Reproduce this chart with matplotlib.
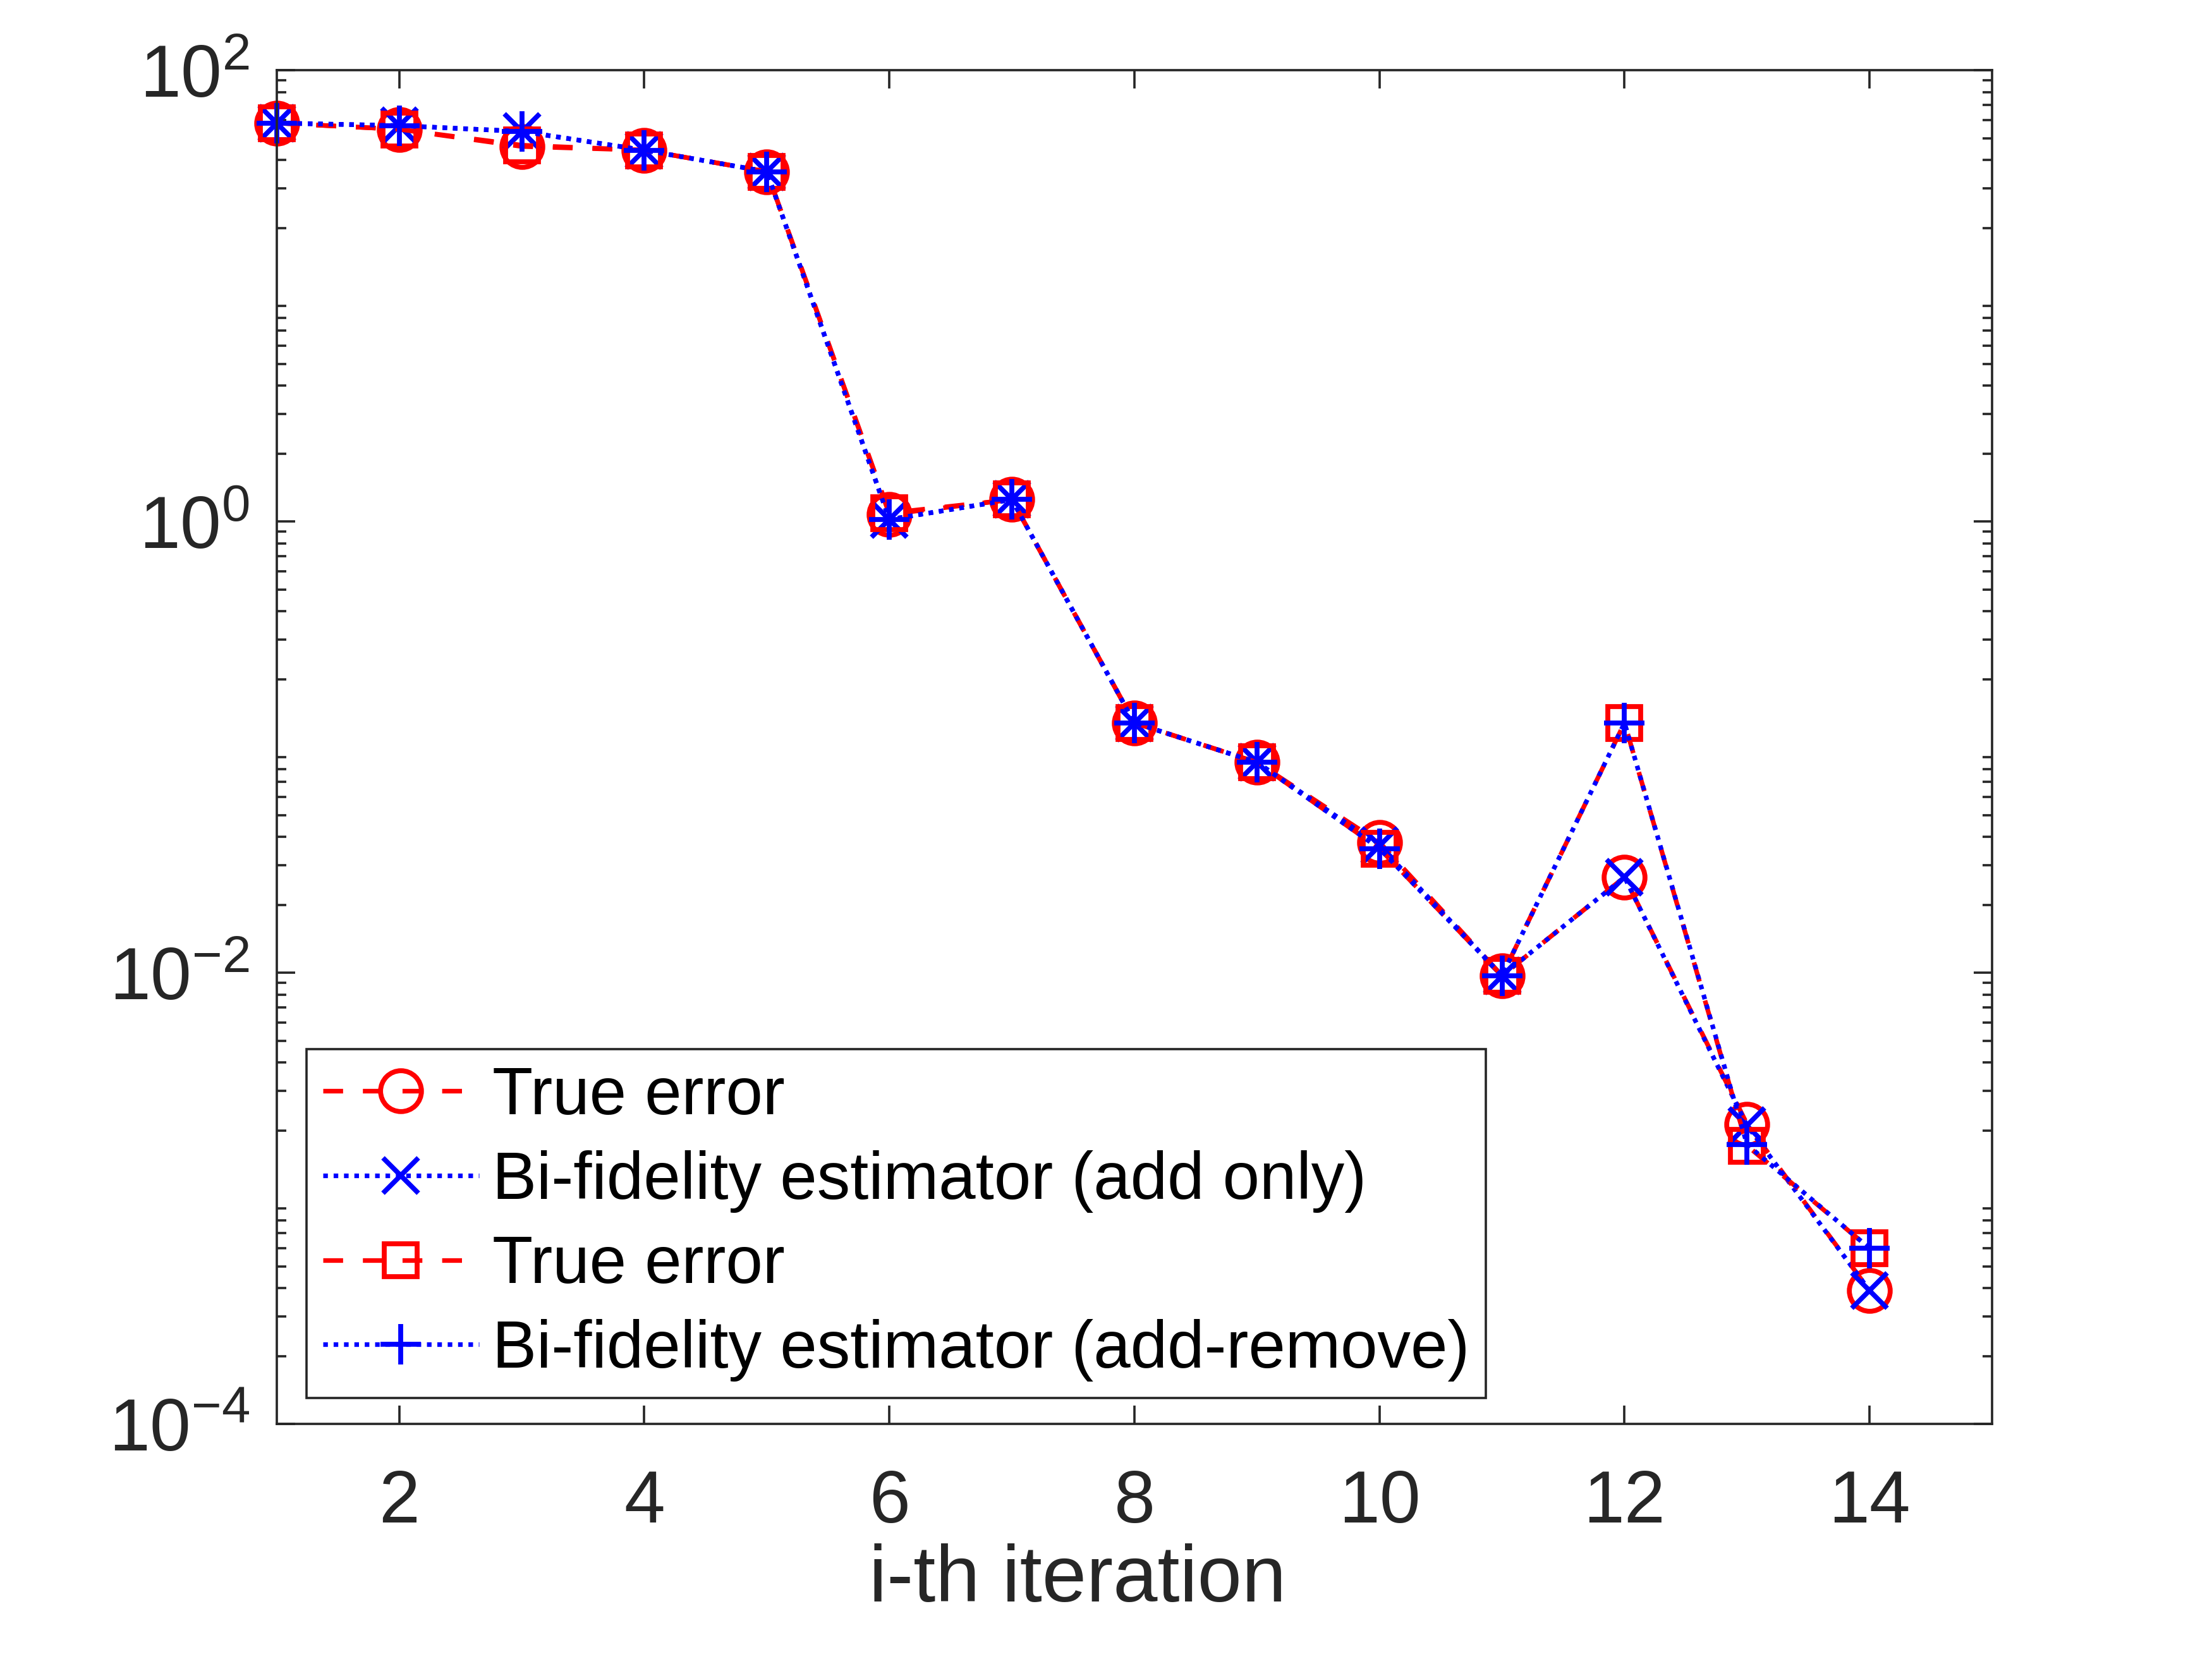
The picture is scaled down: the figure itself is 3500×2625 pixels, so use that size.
import matplotlib
matplotlib.use("Agg")
import matplotlib.pyplot as plt
from matplotlib.ticker import LogLocator, FixedLocator, NullLocator

plt.rcParams['font.family'] = ['Liberation Sans', 'DejaVu Sans']
plt.rcParams['mathtext.fontset'] = 'custom'
plt.rcParams['mathtext.rm'] = 'Liberation Sans'
plt.rcParams['axes.unicode_minus'] = False

# ---- data ----
iterations = [1, 2, 3, 4, 5, 6, 7, 8, 9, 10, 11, 12, 13, 14]
true_err_add = [58.3, 54.7, 45.9, 44.2, 35.5, 1.076, 1.25, 0.128, 0.0855, 0.0378,
                0.0097, 0.0265, 0.00213, 0.00039]
est_add = [58.3, 56.8, 53.5, 44.2, 35.5, 1.02, 1.25, 0.128, 0.0855, 0.0366,
           0.0097, 0.0265, 0.0021, 0.00039]
true_err_ar = [58.3, 54.7, 46.5, 44.2, 35.5, 1.09, 1.25, 0.128, 0.0855, 0.0355,
               0.0097, 0.128, 0.00171, 0.0006]
est_ar = [58.3, 56.8, 53.5, 44.2, 35.5, 1.02, 1.25, 0.128, 0.0855, 0.0355,
          0.0097, 0.128, 0.00173, 0.0006]
labels = ['True error', 'Bi-fidelity estimator (add only)',
          'True error', 'Bi-fidelity estimator (add-remove)']
xticks = [2, 4, 6, 8, 10, 12, 14]

fig = plt.figure(figsize=(10, 7.5), dpi=350)
ax = fig.add_axes([0.1251, 0.1417, 0.7755, 0.8160])

lw = 1.5
mew = 1.6
dash = (0, (4.3, 4.3))
dot = (0, (1.0, 1.25))

ax.plot(iterations, true_err_add, color='red', linestyle=dash, linewidth=lw,
        marker='o', markersize=13.3, markerfacecolor='none', markeredgewidth=mew,
        label=labels[0], clip_on=False)
ax.plot(iterations, est_add, color='blue', linestyle=dot, linewidth=lw,
        marker='x', markersize=11.5, markeredgewidth=mew, label=labels[1],
        clip_on=False)
ax.plot(iterations, true_err_ar, color='red', linestyle=dash, linewidth=lw,
        marker='s', markersize=10.5, markerfacecolor='none', markeredgewidth=mew,
        label=labels[2], clip_on=False)
ax.plot(iterations, est_ar, color='blue', linestyle=dot, linewidth=lw,
        marker='+', markersize=13, markeredgewidth=mew, label=labels[3],
        clip_on=False)

ax.set_yscale('log')
ax.set_xlim(1, 15)
ax.set_ylim(1e-4, 1e2)
ax.xaxis.set_major_locator(FixedLocator(xticks))
ax.xaxis.set_minor_locator(NullLocator())
ax.yaxis.set_major_locator(FixedLocator([1e-4, 1e-2, 1e0, 1e2]))
ax.yaxis.set_minor_locator(LogLocator(base=10, subs=range(2, 10), numticks=20))

dark = '#262626'
for sp in ax.spines.values():
    sp.set_linewidth(0.75)
    sp.set_color(dark)
ax.tick_params(which='both', direction='in', top=True, right=True,
               colors=dark, width=0.75, labelsize=24)
ax.tick_params(axis='x', which='major', length=6, pad=14.5)
ax.tick_params(axis='y', which='major', length=6, pad=8.8)
ax.tick_params(axis='y', which='minor', length=3)

ax.set_xlabel('i-th iteration', fontsize=26, color=dark)
ax.xaxis.set_label_coords(0.467, -0.088)

leg = ax.legend(loc='lower left', bbox_to_anchor=(0.0173, 0.019), borderaxespad=0,
                fontsize=21.6, frameon=True, fancybox=False, framealpha=1,
                edgecolor=dark, numpoints=1, handlelength=2.35,
                handletextpad=0.2, labelspacing=0.33, borderpad=0.25)
leg.get_frame().set_linewidth(0.75)

fig.savefig('out.png', dpi=350, facecolor='white')
